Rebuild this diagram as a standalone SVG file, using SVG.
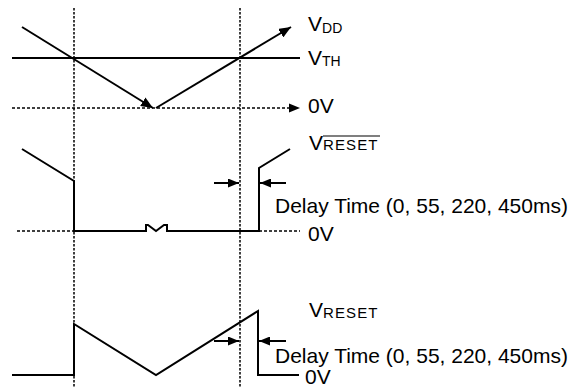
<svg xmlns="http://www.w3.org/2000/svg" width="576" height="388" viewBox="0 0 576 388">
<style>
.s{fill:none;stroke:#000;stroke-width:2;stroke-linejoin:miter}
.d{fill:none;stroke:#000;stroke-width:1.5;stroke-dasharray:3,2}
.v{fill:none;stroke:#000;stroke-width:1.5;stroke-dasharray:2.5,1.5}
.a{fill:none;stroke:#000;stroke-width:2;marker-end:url(#ah)}
text{font-family:"Liberation Sans",Arial,sans-serif;fill:#000}
.t{font-size:21px}
.sub{font-size:14px}
.rs{font-size:15px;letter-spacing:1.1px}
</style>
<defs>
<marker id="ah" markerUnits="userSpaceOnUse" markerWidth="11" markerHeight="9" refX="11" refY="4.5" orient="auto"><path d="M0,0 L11,4.5 L0,9 z" fill="#000"/></marker>
<marker id="big" markerUnits="userSpaceOnUse" markerWidth="12" markerHeight="10" refX="12" refY="5" orient="auto"><path d="M0,0 L12,5 L0,10 z" fill="#000"/></marker>
</defs>
<g id="guides">
<line class="v" x1="74" y1="8" x2="74" y2="388"/>
<line class="v" x1="240" y1="8" x2="240" y2="388"/>
</g>
<g id="vdd-signal">
<line class="s" x1="12" y1="58" x2="300" y2="58"/>
<line class="d" x1="12" y1="108" x2="290" y2="108"/>
<path d="M289,103.5 L300,108 L289,112.5 z" fill="#000"/>
<line class="s" x1="22" y1="27" x2="153" y2="108" marker-end="url(#big)"/>
<line class="s" x1="156" y1="108" x2="291" y2="27" marker-end="url(#big)"/>
</g>
<g id="vreset-bar-signal">
<line class="d" x1="17" y1="231" x2="74" y2="231"/>
<line class="d" x1="259" y1="231" x2="300" y2="231"/>
<polyline class="s" points="22,149 74,181 74,231 146,231 146,225 148,225 156,231 164,225 167,225 167,231 259,231 259,168 290,149"/>
</g>
<g id="vreset-signal">
<polyline class="s" points="12,375 74,375 74,324 156,375 258,311 258,375 299,375"/>
</g>
<g id="connectors">
<line class="a" x1="214" y1="183" x2="239" y2="183"/>
<line class="a" x1="286" y1="183" x2="260" y2="183"/>
<line class="a" x1="214" y1="341" x2="239" y2="341"/>
<line class="a" x1="286" y1="341" x2="259" y2="341"/>
</g>
<g id="labels">
<text class="t" x="308" y="31">V<tspan class="sub" dy="1.5">DD</tspan></text>
<text class="t" x="308" y="65">V<tspan class="sub" dy="0.5">TH</tspan></text>
<text class="t" x="308" y="113">0V</text>
<text class="t" x="309" y="149.5">V<tspan class="rs" dy="0.5">RESET</tspan></text>
<line x1="323" y1="136" x2="380" y2="136" stroke="#000" stroke-width="1.2"/>
<text class="t" x="275" y="213">Delay Time (0, 55, 220, 450ms)</text>
<text class="t" x="308" y="241">0V</text>
<text class="t" x="309" y="317">V<tspan class="rs" dy="0.5">RESET</tspan></text>
<text class="t" x="275" y="363">Delay Time (0, 55, 220, 450ms)</text>
<text class="t" x="305" y="384">0V</text>
</g>
</svg>
